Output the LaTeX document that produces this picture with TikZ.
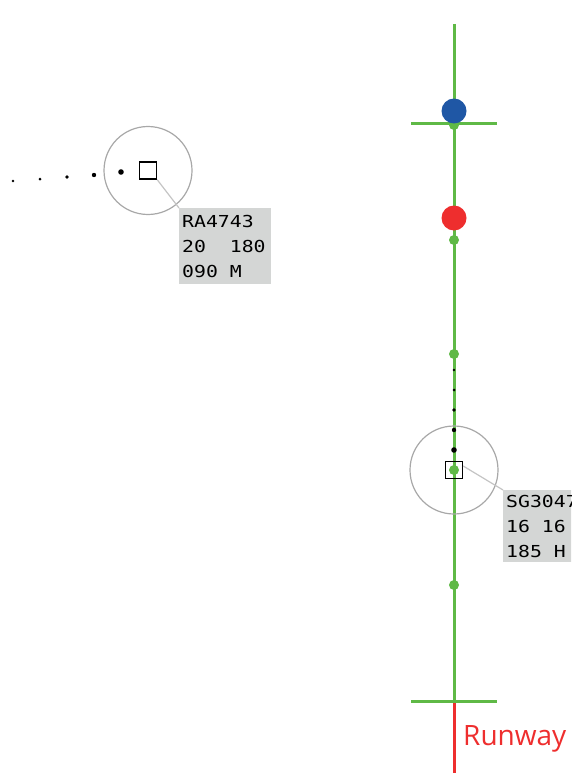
\documentclass[tikz,border=0pt]{standalone}
\usepackage{fontspec}
\usepackage{tikz}
\usetikzlibrary{positioning}
\newfontfamily\tagfont[FakeStretch=1.2]{DejaVu Sans Mono}
\newfontfamily\rwyfont{Open Sans}
\definecolor{appgreen}{HTML}{5FB946}
\definecolor{fixblue}{HTML}{1F57A5}
\definecolor{fixred}{HTML}{EE2E2E}
\definecolor{ringgray}{HTML}{A8A8A8}
\definecolor{taggray}{HTML}{D4D6D5}
\definecolor{leadgray}{HTML}{C4C4C4}
\newcommand{\gap}[1]{\phantom{#1}}

\begin{document}
\begin{tikzpicture}[
  x=1pt, y=-1pt,
  track/.style  = {appgreen, line width=3pt},
  bar/.style    = {appgreen, line width=3pt},
  wpt/.style    = {circle, fill=appgreen, inner sep=0pt, minimum size=10pt},
  fix/.style    = {circle, inner sep=0pt, minimum size=25pt},
  trail/.style  = {circle, fill=black, inner sep=0pt},
  plane/.style  = {draw=black, line width=1.4pt, inner sep=0pt, minimum size=17pt},
  ring/.style   = {circle, draw=ringgray, line width=1.2pt, inner sep=0pt,
                   minimum size=88pt},
  lead/.style   = {leadgray, line width=1.2pt},
  tagbox/.style = {fill=taggray, anchor=north west, align=left, inner xsep=3pt,
                   inner ysep=0pt, font=\tagfont\fontsize{16.5}{25}\selectfont}
]
\useasboundingbox (0,0) rectangle (571,773);
\clip (0,0) rectangle (571,773);

% approach path
\coordinate (top) at (454,24);
\coordinate (thr) at (454,701);
\coordinate (bot) at (454,773);
\draw[track] (top) -- (thr);
\draw[fixred, line width=3pt] (thr) -- (bot);
\draw[bar] (411,124) -- (497,124);
\draw[bar] (411,701) -- (497,701);

\node[wpt] (w0) at (454,125) {};
\node[wpt] (w1) at (454,240) {};
\node[wpt] (w2) at (454,354) {};
\node[wpt] (w3) at (454,470) {};
\node[wpt] (w4) at (454,585) {};

\node[fix, fill=fixblue] (faf) at (454,111) {};
\node[fix, fill=fixred]  (iaf) at (454,218) {};

\node[font=\rwyfont\fontsize{28}{30}\selectfont, fixred, anchor=base west,
      inner sep=0pt] (rwy) at (463,745) {Runway};

% history dots
\foreach \yy/\rr in {370/2.6, 390/3.0, 410/3.6, 430/4.4, 450/5.6}
  \node[trail, minimum size=\rr pt] at (454,\yy) {};
\foreach \xx/\yy/\rr in {13/181/2.6, 40/179/3.0, 67/177/3.6, 94/175/4.4, 121/172/5.6}
  \node[trail, minimum size=\rr pt] at (\xx,\yy) {};

% aircraft RA4743
\node[plane] (rasq) at (148,170.5) {};
\node[ring] (raring) at (148,170.5) {};
\node[tagbox, minimum width=92pt, minimum height=76pt, text width=86pt]
     (ratag) at (179,208) {RA4743\\20\gap{00}180\\090\gap{0}M};
\draw[lead] (rasq.south east) -- (ratag.north west);

% aircraft SG3047
\node[plane] (sgsq) at (454,470) {};
\node[ring] (sgring) at (454,470) {};
\node[tagbox, minimum width=92pt, minimum height=72pt, text width=86pt]
     (sgtag) at (503,490) {SG3047\\16\gap{0}16\\185\gap{0}H};
\draw[lead] ([yshift=4pt]sgsq.east) -- (sgtag.north west);

\end{tikzpicture}
\end{document}
